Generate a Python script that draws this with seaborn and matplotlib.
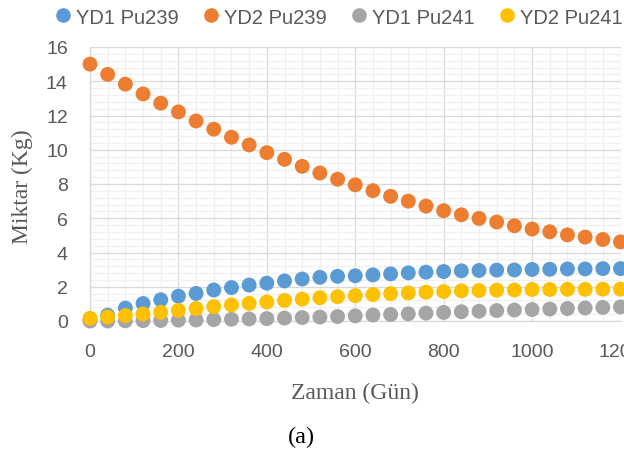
import numpy as np
import pandas as pd
import matplotlib
matplotlib.use("Agg")
import matplotlib.pyplot as plt
import seaborn as sns
from matplotlib.ticker import MultipleLocator
from matplotlib.lines import Line2D

days = [0, 40, 80, 120, 160, 200, 240, 280, 320, 360, 400, 440, 480, 520, 560, 600,
        640, 680, 720, 760, 800, 840, 880, 920, 960, 1000, 1040, 1080, 1120, 1160, 1200]

yd1_pu239 = [0.05, 0.34, 0.75, 1.02, 1.24, 1.45, 1.61, 1.81, 1.95, 2.1, 2.21, 2.34, 2.45, 2.55, 2.61, 2.64,
             2.69, 2.75, 2.81, 2.85, 2.89, 2.93, 2.95, 2.97, 2.98, 3.01, 3.02, 3.04, 3.04, 3.06, 3.06]
yd2_pu239 = [15.0, 14.4, 13.83, 13.26, 12.72, 12.21, 11.68, 11.2, 10.73, 10.28, 9.83, 9.44, 9.03, 8.64, 8.28, 7.95,
             7.61, 7.28, 7.0, 6.71, 6.44, 6.2, 5.99, 5.78, 5.56, 5.37, 5.21, 5.03, 4.9, 4.76, 4.62]
yd1_pu241 = [0.0, 0.0, 0.01, 0.02, 0.03, 0.05, 0.06, 0.08, 0.1, 0.12, 0.14, 0.17, 0.2, 0.23, 0.26, 0.3,
             0.35, 0.38, 0.42, 0.46, 0.5, 0.54, 0.57, 0.61, 0.64, 0.67, 0.7, 0.73, 0.76, 0.79, 0.82]
yd2_pu241 = [0.16, 0.24, 0.32, 0.41, 0.51, 0.62, 0.73, 0.84, 0.94, 1.03, 1.11, 1.2, 1.28, 1.36, 1.42, 1.48,
             1.54, 1.6, 1.64, 1.68, 1.72, 1.76, 1.78, 1.8, 1.81, 1.84, 1.84, 1.85, 1.85, 1.86, 1.86]

series_names = ["YD1 Pu239", "YD2 Pu239", "YD1 Pu241", "YD2 Pu241"]
colors = ["#5B9BD5", "#ED7D31", "#A5A5A5", "#FFC000"]
x_ticks = [0, 200, 400, 600, 800, 1000, 1200]
y_ticks = [0, 2, 4, 6, 8, 10, 12, 14, 16]

frames = []
for name, vals in zip(series_names, [yd1_pu239, yd2_pu239, yd1_pu241, yd2_pu241]):
    frames.append(pd.DataFrame({"Gun": days, "Miktar": vals, "Seri": name}))
df = pd.concat(frames, ignore_index=True)

sns.set_theme(style="white")
plt.rcParams["font.family"] = ["Liberation Sans", "DejaVu Sans"]

W, H = 624, 452
fig = plt.figure(figsize=(W / 100, H / 100), dpi=100)
left, right, top, bottom = 90, 620.5, 48, 322
ax = fig.add_axes([left / W, 1 - bottom / H, (right - left) / W, (bottom - top) / H])

sns.scatterplot(data=df, x="Gun", y="Miktar", hue="Seri", hue_order=series_names,
                palette=colors, s=115, linewidth=0, alpha=1, ax=ax, clip_on=False,
                legend=False, zorder=3)

ax.set_xlim(0, 1200)
ax.set_ylim(0, 16)
ax.set_xticks(x_ticks)
ax.set_yticks(y_ticks)
ax.xaxis.set_minor_locator(MultipleLocator(40))
ax.yaxis.set_minor_locator(MultipleLocator(0.4))
ax.grid(which="minor", color="#F0F0F0", linewidth=0.9, zorder=0)
ax.grid(which="major", color="#D9D9D9", linewidth=0.9, zorder=1)
ax.set_axisbelow(True)
for side in ["top", "right"]:
    ax.spines[side].set_visible(False)
for side in ["left", "bottom"]:
    ax.spines[side].set_color("#D9D9D9")
    ax.spines[side].set_linewidth(0.9)
ax.tick_params(axis="both", which="both", length=0, labelsize=14, labelcolor="#595959")
ax.tick_params(axis="x", pad=16)
ax.tick_params(axis="y", pad=16)

ax.set_xlabel("")
ax.set_ylabel("")
fig.text(355 / W, 1 - 393 / H, "Zaman (Gün)", family="Liberation Serif", fontsize=17,
         color="#595959", ha="center", va="center")
fig.text(22 / W, 1 - 187 / H, "Miktar (Kg)", family="Liberation Serif", fontsize=17,
         color="#595959", ha="center", va="center", rotation=90)
fig.text(301 / W, 1 - 437 / H, "(a)", family="Liberation Serif", fontsize=17.5,
         color="black", ha="center", va="center")

handles = [Line2D([0], [0], marker="o", linestyle="none", markersize=10.5,
                  markerfacecolor=c, markeredgewidth=0) for c in colors]
fig.legend(handles, series_names, loc="center left", bbox_to_anchor=(56 / W, 1 - 18 / H),
           ncol=4, frameon=False, fontsize=14.5, labelcolor="#595959",
           handlelength=0.7, handletextpad=0.3, columnspacing=1.24, borderpad=0,
           borderaxespad=0)

fig.savefig("out.png", dpi=100)
